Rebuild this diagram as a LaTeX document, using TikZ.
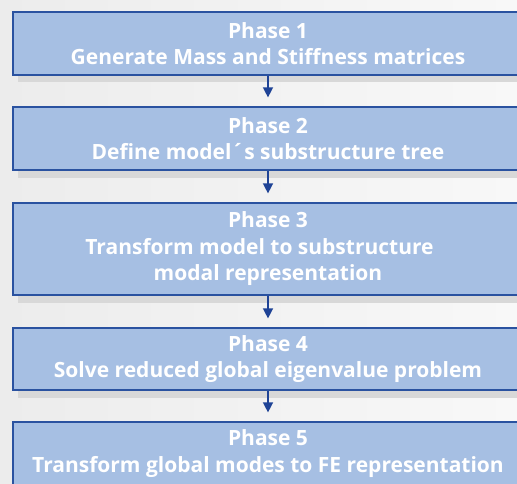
\documentclass[tikz,border=0pt]{standalone}
\usepackage{fontspec}
\setmainfont{Open Sans}
\usetikzlibrary{arrows.meta}
\definecolor{bgL}{HTML}{ECECEC}
\definecolor{bgR}{HTML}{F8F8F8}
\definecolor{boxfill}{HTML}{A6BFE3}
\definecolor{boxline}{HTML}{2A52A0}
\definecolor{arrcol}{HTML}{1F4396}
\definecolor{shadowcol}{HTML}{D8D8D8}
\tikzset{
  phasebox/.style={draw=boxline, line width=1.2pt, fill=boxfill,
    minimum width=510pt, inner sep=0pt, align=center,
    text=white, font=\fontsize{21}{26.5}\selectfont\bfseries},
  shade/.style={fill=shadowcol, draw=none},
  arr/.style={draw=arrcol, line width=1.4pt,
    -{Triangle[width=10pt,length=10pt]}}
}
\begin{document}
\begin{tikzpicture}[x=1pt,y=-1pt]
\useasboundingbox (0,0) rectangle (517,484);
\clip (0,0) rectangle (517,484);
\shade[left color=bgL, right color=bgR] (0,0) rectangle (517,484);
% shadows
\fill[shade] (18,19) rectangle (530,82);
\fill[shade] (18,115) rectangle (530,178);
\fill[shade] (18,211) rectangle (530,303);
\fill[shade] (18,336) rectangle (530,398);
% boxes
\node[phasebox, minimum height=63pt] (b1) at (268,43.5) {Phase 1\\Generate Mass and Stiffness matrices};
\node[phasebox, minimum height=63pt] (b2) at (268,138.5) {Phase 2\\Define model´s substructure tree};
\node[phasebox, minimum height=92pt] (b3) at (268,249) {Phase 3\\Transform model to substructure\rule{17pt}{0pt}\\modal representation};
\node[phasebox, minimum height=62pt] (b4) at (268,359) {Phase 4\\Solve reduced global eigenvalue problem};
\node[phasebox, minimum height=63pt] (b5) at (268,453.5) {Phase 5\\Transform global modes to FE representation};
% arrows
\draw[arr] (b1.south) -- ([yshift=9pt]b2.north);
\draw[arr] (b2.south) -- ([yshift=9pt]b3.north);
\draw[arr] (b3.south) -- ([yshift=9pt]b4.north);
\draw[arr] (b4.south) -- ([yshift=9pt]b5.north);
\end{tikzpicture}
\end{document}
